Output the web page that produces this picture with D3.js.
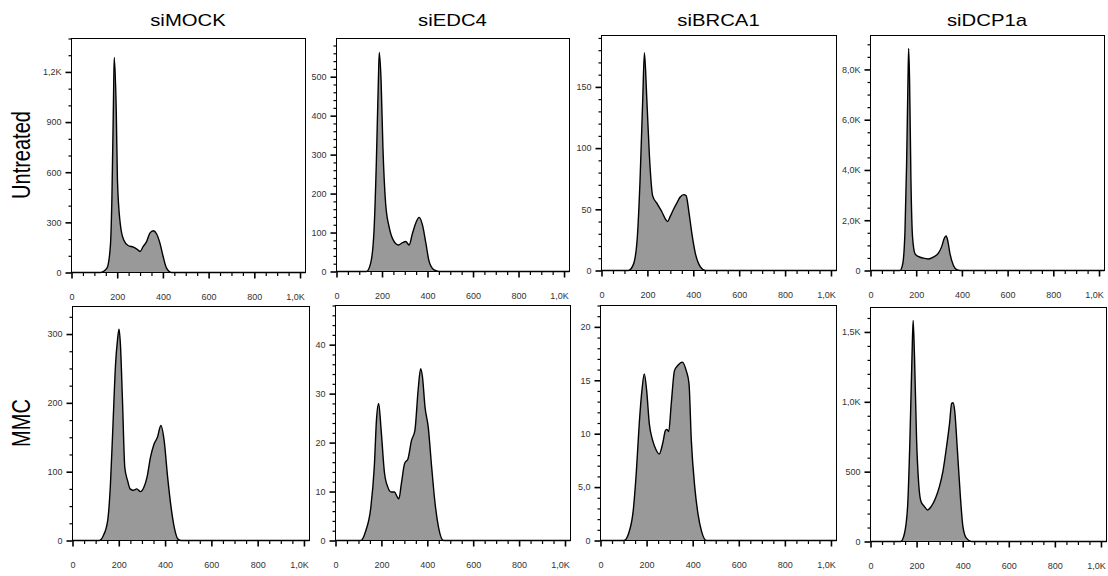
<!DOCTYPE html>
<html>
<head>
<meta charset="utf-8">
<script src="https://cdnjs.cloudflare.com/ajax/libs/d3/7.8.5/d3.min.js"></script>
<style>
  body { margin: 0; background: #fff; }
  text { font-family: "Liberation Sans", Arial, sans-serif; }
</style>
</head>
<body>
<div class="chart"></div>
<script>
var width = 1108, height = 576;

// column / row labels
const colTitles = ["siMOCK", "siEDC4", "siBRCA1", "siDCP1a"];
const rowTitles = ["Untreated", "MMC"];
const xTicks = [0, 200, 400, 600, 800, 1000];
const xMinorStep = 50;
const xMax = 1024;

// histograms (channel value -> count)
const mockUntX = [0,126,155,170,177,184,187,196,201,213,228,249,271,286,300,314,329,343,358,372,387,401,416,438,1024];
const mockUntY = [0,0,26,156,456,1056,1286,956,556,296,196,160,152,140,126,156,186,236,250,232,176,96,26,0,0];

const edc4UntX = [0,131,150,165,175,184,188,196,204,216,231,249,272,290,304,319,334,349,363,378,393,407,429,451,1024];
const edc4UntY = [0,0,21,106,277,489,562,489,319,174,115,81,68,74,77,68,98,125,139,119,72,26,4,0,0];

const brca1UntX = [0,117,139,156,168,180,187,197,209,223,241,263,282,288,299,314,328,343,358,369,380,394,409,431,453,1024];
const brca1UntY = [0,0,5,27,74,142,178,142,93,61,55,48,41,40,44,50,55,60,62,61,49,30,14,3,0,0];

const dcp1aUntX = [0,129,141,151,158,164,167,171,177,184,195,209,231,253,275,297,312,322,331,338,348,363,378,392,1024];
const dcp1aUntY = [0,0,265,1590,4250,7560,8830,7560,3580,1330,660,560,490,460,530,690,960,1260,1370,1190,660,200,30,0,0];

const mockMmcX = [0,115,133,152,164,175,186,194,201,207,216,226,238,249,263,278,293,308,322,337,352,367,382,396,411,426,441,456,470,1024];
const mockMmcY = [0,0,7,29,82,169,256,290,307,285,203,106,87,75,73,75,71,77,92,121,140,150,167,145,92,48,17,2,0,0];

const edc4MmcX = [0,110,132,154,169,179,188,199,213,228,243,257,268,276,287,301,316,331,346,360,371,379,390,404,419,434,449,471,1024];
const edc4MmcY = [0,0,2,6.8,15,25,28,22.5,14,10.9,9.9,9.9,9.0,8.5,11.6,15.7,16.7,20.4,22.5,30.7,35.1,33.4,27.3,23.2,15,7.5,2.7,0,0];

const brca1MmcX = [0,102,124,142,156,168,180,190,200,212,226,241,255,270,282,288,296,307,321,336,355,372,384,394,409,423,438,460,1024];
const brca1MmcY = [0,0,0.8,2.8,6.6,10.9,14.1,15.6,14.1,10.9,9.4,8.5,8.1,9.1,10.3,10.4,10.2,12.8,15.9,16.4,16.7,15.9,14.7,9.4,5,2.5,0.9,0,0];

const dcp1aMmcX = [0,131,146,161,171,180,185,191,200,209,219,234,248,263,282,299,314,328,343,352,358,365,377,390,401,416,438,1024];
const dcp1aMmcY = [0,0,48,250,726,1321,1583,1321,726,417,286,250,226,250,310,393,500,655,845,988,993,940,655,321,107,24,0,0];

// y axis ranges per panel: [max, major step, minor step]
const yAxes = [
  [1400, 300, 100], [598, 100, 20], [192, 50, 10], [9350, 2000, 500],
  [340, 100, 25], [48, 10, 2], [22, 5, 1], [1675, 500, 100]
];
const series = [
  [mockUntX, mockUntY], [edc4UntX, edc4UntY], [brca1UntX, brca1UntY], [dcp1aUntX, dcp1aUntY],
  [mockMmcX, mockMmcY], [edc4MmcX, edc4MmcY], [brca1MmcX, brca1MmcY], [dcp1aMmcX, dcp1aMmcY]
];

// panel frames (left, top, right, bottom)
const boxes = [
  [71, 38, 305, 272], [336, 38, 569, 271], [601, 35, 836, 270], [870, 35, 1104, 270],
  [72, 306, 309, 540], [335, 305, 570, 540], [600, 305, 836, 540], [870, 307, 1106, 541]
];

const stretch = 1.27;

function fmt(v) {
  if (v == 0) return "0";
  if (v >= 1000) return (v / 1000).toFixed(1).replace(".", ",") + "K";
  if (v < 10) return v.toFixed(1).replace(".", ",");
  return String(v);
}

var svg = d3.select(".chart").append("svg")
  .attr("width", width)
  .attr("height", height);

svg.append("rect").attr("width", width).attr("height", height).attr("fill", "#fff");

// column titles
colTitles.forEach((t, i) => {
  let b = boxes[i];
  svg.append("text")
    .attr("transform", `translate(${(b[0] + b[2]) / 2}, 26) scale(${stretch},1)`)
    .attr("text-anchor", "middle")
    .attr("font-size", 16)
    .attr("fill", "#000")
    .text(t);
});

// row titles
rowTitles.forEach((t, i) => {
  let b = boxes[i * 4];
  svg.append("text")
    .attr("transform", `translate(30, ${(b[1] + b[3]) / 2}) scale(${stretch},1) rotate(-90)`)
    .attr("text-anchor", "middle")
    .attr("font-size", 20)
    .attr("fill", "#000")
    .text(t);
});

series.forEach((s, i) => {
  let b = boxes[i];
  let ya = yAxes[i];
  let data = s[0].map((d, j) => ({x: d, y: s[1][j]}));

  let x = d3.scaleLinear().domain([0, xMax]).range([b[0] + 0.5, b[2] + 0.5]);
  let y = d3.scaleLinear().domain([0, ya[0]]).range([b[3] + 0.5, b[1] + 0.5]);

  let g = svg.append("g").attr("class", "panel");

  let area = d3.area()
    .x(d => x(d.x))
    .y0(y(0))
    .y1(d => y(d.y))
    .curve(d3.curveMonotoneX);
  let line = d3.line()
    .x(d => x(d.x))
    .y(d => y(d.y))
    .curve(d3.curveMonotoneX);

  g.append("path").datum(data)
    .attr("d", area)
    .attr("fill", "#999");
  g.append("path").datum(data)
    .attr("d", line)
    .attr("fill", "none")
    .attr("stroke", "#000")
    .attr("stroke-width", 1.4);

  g.append("rect")
    .attr("x", b[0] + 0.5).attr("y", b[1] + 0.5)
    .attr("width", b[2] - b[0]).attr("height", b[3] - b[1])
    .attr("fill", "none")
    .attr("stroke", "#000")
    .attr("stroke-width", 1);

  // y axis
  let yMajor = d3.range(0, ya[0] + 1e-9, ya[1]);
  let yMinor = d3.range(0, ya[0] + 1e-9, ya[2]).filter(v => yMajor.indexOf(v) < 0);
  let yAx = g.append("g")
    .attr("transform", `translate(${b[0] + 0.5},0)`)
    .call(d3.axisLeft(y).tickValues(yMajor).tickSize(6).tickSizeOuter(0).tickPadding(4).tickFormat(fmt));
  let yAxMinor = g.append("g")
    .attr("transform", `translate(${b[0] + 0.5},0)`)
    .call(d3.axisLeft(y).tickValues(yMinor).tickSize(3).tickSizeOuter(0).tickFormat(""));

  // x axis
  let xMinor = d3.range(0, xMax, xMinorStep).filter(v => xTicks.indexOf(v) < 0);
  let xAx = g.append("g")
    .attr("transform", `translate(0,${b[3] + 0.5})`)
    .call(d3.axisBottom(x).tickValues(xTicks).tickSize(6).tickSizeOuter(0).tickPadding(15).tickFormat(fmt));
  let xAxMinor = g.append("g")
    .attr("transform", `translate(0,${b[3] + 0.5})`)
    .call(d3.axisBottom(x).tickValues(xMinor).tickSize(3.5).tickSizeOuter(0).tickFormat(""));

  // the "1,0K" label sits a little left of its tick
  xAx.selectAll("text").attr("dx", d => d >= 1000 ? -5 : 0);

  [yAx, yAxMinor, xAx, xAxMinor].forEach(a => {
    a.select(".domain").remove();
    a.selectAll("line").attr("stroke", "#000").attr("stroke-width", 1.2);
    a.selectAll("text")
      .attr("font-size", 9)
      .attr("font-family", "\"Liberation Sans\", Arial, sans-serif")
      .attr("fill", "#333");
  });
  yAx.selectAll("line").attr("stroke-width", 1.6);
  xAx.selectAll("line").attr("stroke-width", 1.6);
});
</script>
</body>
</html>
